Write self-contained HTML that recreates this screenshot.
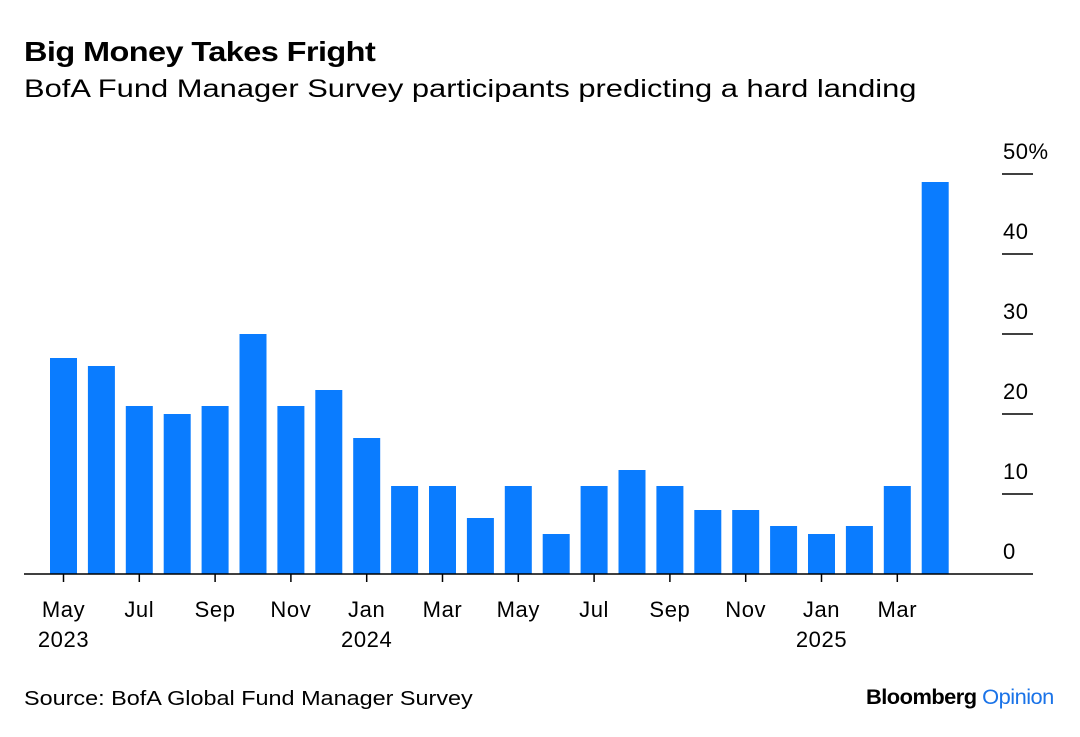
<!DOCTYPE html>
<html><head><meta charset="utf-8">
<style>
body{margin:0;background:#fff;font-family:"Liberation Sans",sans-serif;}
#wrap{position:relative;width:1080px;height:737px;overflow:hidden;}
.t{position:absolute;color:#000;white-space:nowrap;transform-origin:left top;}
</style></head><body>
<div id="wrap">
<div class="t" style="left:24px;top:36px;font-size:28px;font-weight:bold;letter-spacing:-0.5px;transform:scaleX(1.16)">Big Money Takes Fright</div>
<div class="t" style="left:24px;top:75px;font-size:25px;transform:scaleX(1.235)">BofA Fund Manager Survey participants predicting a hard landing</div>
<svg id="chart" width="1080" height="737" style="position:absolute;left:0;top:0"></svg>
<div class="t" style="left:24px;top:688px;font-size:20px;transform:scaleX(1.17)">Source: BofA Global Fund Manager Survey</div>
<div class="t" style="left:866px;top:686px;font-size:21px;font-weight:bold;letter-spacing:-0.5px;transform:scaleX(1.04)">Bloomberg <span style="color:#1a73e8;font-weight:normal">Opinion</span></div>
</div>
<script>
const values=[27,26,21,20,21,30,21,23,17,11,11,7,11,5,11,13,11,8,8,6,5,6,11,49];
const monthLabels=["May","Jul","Sep","Nov","Jan","Mar","May","Jul","Sep","Nov","Jan","Mar"];
const yearLabels=["2023","","","","2024","","","","","","2025",""];
const yTicks=[0,10,20,30,40,50];
const svg=document.getElementById('chart');
const NS='http://www.w3.org/2000/svg';
const x0=63.5,step=37.9,bw=27;
const xs=i=>x0+i*step;
const ys=v=>574-v*8;
function mk(tag,attrs){const e=document.createElementNS(NS,tag);for(const k in attrs)e.setAttribute(k,attrs[k]);svg.appendChild(e);return e;}
values.forEach((v,i)=>{
 const r=mk('rect',{x:xs(i)-bw/2,y:ys(v),width:bw,height:574-ys(v),fill:'#0a7cff'});
 
 
});
yTicks.forEach(t=>{
 if(t>0){const l=mk('line',{x1:1002,x2:1033,y1:ys(t),y2:ys(t),stroke:'#000','stroke-width':1.5});
 
 }
 const tx=mk('text',{x:1003,y:ys(t)-15,'font-size':22,'letter-spacing':0.5,fill:'#000'});
 tx.textContent=t===50?'50%':String(t);
 
 
});
const ax=mk('line',{x1:24,x2:1033,y1:574,y2:574,stroke:'#000','stroke-width':1.5});


monthLabels.forEach((m,j)=>{
 const x=xs(j*2);
 const tk=mk('line',{x1:x,x2:x,y1:574,y2:582,stroke:'#000','stroke-width':1.5});
 
 
 const t=mk('text',{x:x,y:617,'font-size':22,'letter-spacing':0.6,'text-anchor':'middle',fill:'#000'});
 t.textContent=m;
 
 
 if(yearLabels[j]){const y=mk('text',{x:x,y:647,'font-size':22,'letter-spacing':0.6,'text-anchor':'middle',fill:'#000'});
 y.textContent=yearLabels[j];
 
 }
});
</script>
</body></html>
